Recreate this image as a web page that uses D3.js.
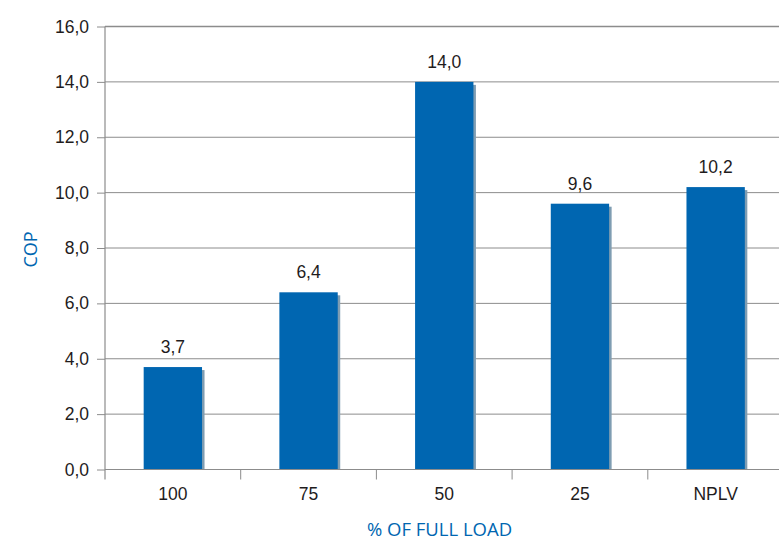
<!DOCTYPE html>
<html>
<head>
<meta charset="utf-8">
<script src="https://cdn.jsdelivr.net/npm/d3@7"></script>
<style>
  html, body { margin: 0; padding: 0; background: #fff; }
  svg { display: block; font-family: "Liberation Sans", Arial, Helvetica, sans-serif; }
</style>
</head>
<body>
<svg id="chart" width="779" height="540"></svg>
<script>
// COP at each part-load point
const categories = ["100", "75", "50", "25", "NPLV"];
const copValues = [3.7, 6.4, 14.0, 9.6, 10.2];
const yTicks = [0, 2, 4, 6, 8, 10, 12, 14, 16];
const xTitle = "% OF FULL LOAD";
const yTitle = "COP";

const W = 779, H = 540;
const plot = { left: 105, right: 783.5, top: 26.5, bottom: 469.5 };

const svg = d3.select("#chart");
const fmt = v => d3.format(".1f")(v).replace(".", ",");

const x = d3.scaleBand().domain(categories).range([plot.left, plot.right]).padding(0);
const y = d3.scaleLinear().domain([0, 16]).range([plot.bottom, plot.top]);

const gridColor = "#8c8c8c";
const textColor = "#1f1c1d";
const blue = "#0066b1";
const titleFont = "'Open Sans', 'Noto Sans', sans-serif";

// horizontal gridlines
svg.append("g")
  .selectAll("line")
  .data(yTicks)
  .join("line")
  .attr("x1", plot.left).attr("x2", W)
  .attr("y1", d => y(d)).attr("y2", d => y(d))
  .attr("stroke", gridColor)
  .attr("stroke-width", d => d === 16 ? 1.6 : 1);

// y axis: ticks to the left, labels
const yAxis = d3.axisLeft(y).tickValues(yTicks).tickSize(8).tickPadding(8).tickFormat(fmt);
const gy = svg.append("g").attr("transform", `translate(${plot.left},0)`).call(yAxis);
gy.select(".domain").remove();
gy.selectAll(".tick line").attr("stroke", gridColor);
gy.selectAll(".tick text").attr("fill", textColor).attr("font-size", 17.5).attr("font-family", null);

// vertical axis line, extended below the baseline
svg.append("line")
  .attr("x1", plot.left).attr("x2", plot.left)
  .attr("y1", plot.top).attr("y2", plot.bottom + 10)
  .attr("stroke", gridColor).attr("stroke-width", 1.2);

// category boundary ticks below the baseline
svg.append("g")
  .selectAll("line")
  .data(categories.slice(1))
  .join("line")
  .attr("x1", d => x(d)).attr("x2", d => x(d))
  .attr("y1", plot.bottom).attr("y2", plot.bottom + 10)
  .attr("stroke", gridColor);

// bars with a thin drop shadow on the right
const barW = x.bandwidth() * 0.43;
const bx = d => x(d) + (x.bandwidth() - barW) / 2;
const data = categories.map((c, i) => ({ c, v: copValues[i] }));

svg.append("g")
  .selectAll("rect")
  .data(data)
  .join("rect")
  .attr("x", d => bx(d.c) + 2.5)
  .attr("y", d => y(d.v) + 3)
  .attr("width", barW)
  .attr("height", d => plot.bottom - y(d.v) - 3)
  .attr("fill", "#7f9db2");

svg.append("g")
  .selectAll("rect")
  .data(data)
  .join("rect")
  .attr("x", d => bx(d.c))
  .attr("y", d => y(d.v))
  .attr("width", barW)
  .attr("height", d => plot.bottom - y(d.v))
  .attr("fill", blue);

// baseline drawn over the bars
svg.append("line")
  .attr("x1", plot.left).attr("x2", W)
  .attr("y1", plot.bottom).attr("y2", plot.bottom)
  .attr("stroke", gridColor).attr("stroke-width", 1.2);

// value labels
svg.append("g")
  .selectAll("text")
  .data(data)
  .join("text")
  .attr("x", d => x(d.c) + x.bandwidth() / 2)
  .attr("y", d => y(d.v) - 14)
  .attr("text-anchor", "middle")
  .attr("font-size", 17.5)
  .attr("fill", textColor)
  .text(d => fmt(d.v));

// category labels
svg.append("g")
  .selectAll("text")
  .data(categories)
  .join("text")
  .attr("x", d => x(d) + x.bandwidth() / 2)
  .attr("y", plot.bottom + 30)
  .attr("text-anchor", "middle")
  .attr("font-size", 17.5)
  .attr("fill", textColor)
  .text(d => d);

// axis titles
svg.append("text")
  .attr("x", 439.5).attr("y", 536)
  .attr("text-anchor", "middle")
  .attr("font-family", titleFont)
  .attr("font-size", 18.5)
  .attr("fill", blue)
  .text(xTitle);

svg.append("text")
  .attr("transform", `translate(36.5,249.5) rotate(-90)`)
  .attr("text-anchor", "middle")
  .attr("font-family", titleFont)
  .attr("font-size", 18)
  .attr("fill", blue)
  .text(yTitle);
</script>
</body>
</html>
